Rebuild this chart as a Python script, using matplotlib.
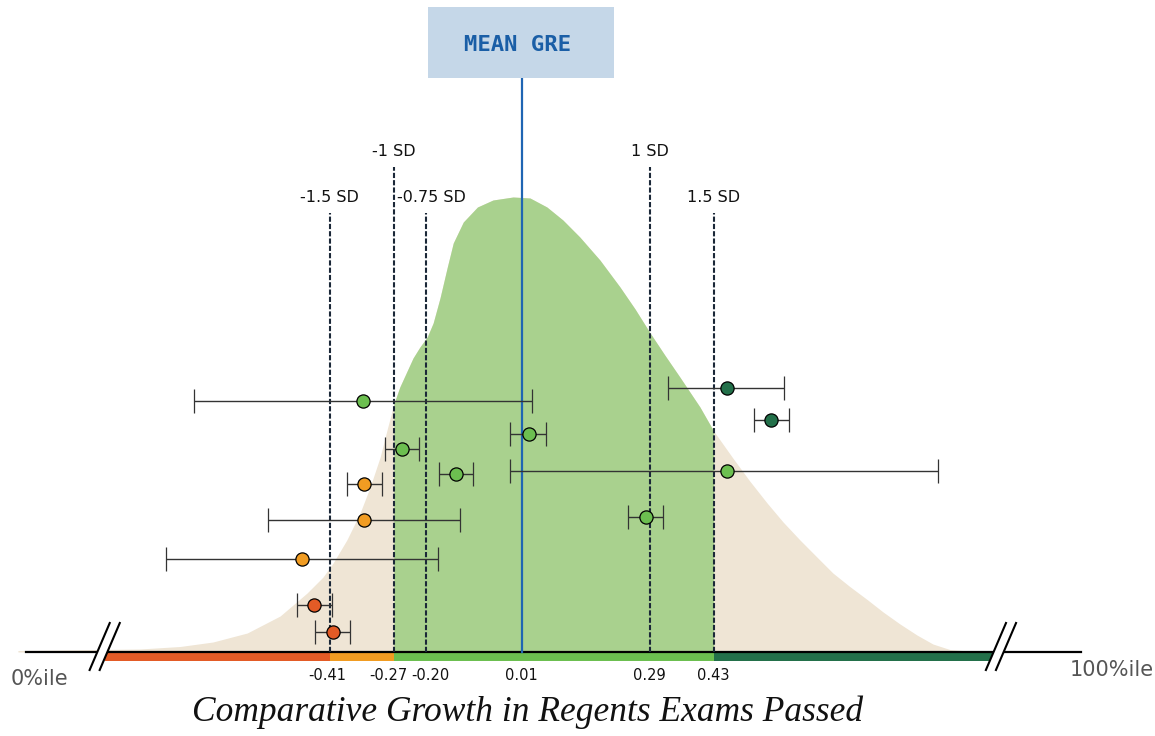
#-----------------------------------------------------------------------------------------

import numpy as np
from matplotlib import pyplot as plt
from matplotlib.patches import Rectangle, Polygon

#-----------------------------------------------------------------------------------------

# density curve (GRE units, arbitrary height)
curve_x = [-1.093, -1.001, -0.913, -0.826, -0.738, -0.666, -0.591, -0.519, -0.460, -0.425,
           -0.403, -0.373, -0.344, -0.322, -0.300, -0.285, -0.27, -0.257, -0.241, -0.228,
           -0.213, -0.197, -0.184, -0.169, -0.153, -0.140, -0.118, -0.087, -0.053, -0.009,
           0.028, 0.065, 0.100, 0.137, 0.181, 0.225, 0.258, 0.291, 0.323, 0.356,
           0.400, 0.43, 0.472, 0.509, 0.547, 0.582, 0.619, 0.656, 0.691, 0.728,
           0.766, 0.801, 0.838, 0.875, 0.910, 0.947, 1.002, 1.056]
curve_y = [0.015, 0.02, 0.025, 0.03, 0.055, 0.10, 0.19, 0.36, 0.59, 0.75,
           0.89, 1.12, 1.39, 1.65, 1.95, 2.22, 2.48, 2.65, 2.81, 2.94,
           3.05, 3.15, 3.29, 3.54, 3.85, 4.09, 4.30, 4.45, 4.52, 4.55,
           4.54, 4.45, 4.32, 4.15, 3.92, 3.65, 3.43, 3.19, 2.97, 2.75,
           2.45, 2.21, 1.94, 1.71, 1.49, 1.30, 1.12, 0.95, 0.79, 0.655,
           0.525, 0.40, 0.28, 0.17, 0.08, 0.025, 0.005, 0.0]

mean_gre = 0.01
sd_labels = ["-1.5 SD", "-1 SD", "-0.75 SD", "1 SD", "1.5 SD"]
sd_x      = [-0.41, -0.27, -0.20, 0.29, 0.43]
sd_top    = [4.39, 4.85, 4.39, 4.85, 4.39]

tick_vals   = [-0.41, -0.27, -0.20, 0.01, 0.29, 0.43]
tick_labels = ["-0.41", "-0.27", "-0.20", "0.01", "0.29", "0.43"]

# schools: estimate, lower, upper, row height, colour band
pt_x   = [-0.338, 0.459, 0.555, 0.026, -0.252, -0.134, -0.335, 0.459, -0.335, 0.282, -0.472, -0.445, -0.403]
pt_lo  = [-0.707, 0.330, 0.519, -0.016, -0.289, -0.171, -0.373, -0.016, -0.545, 0.243, -0.769, -0.482, -0.442]
pt_hi  = [0.032, 0.584, 0.595, 0.063, -0.215, -0.097, -0.296, 0.921, -0.125, 0.319, -0.173, -0.405, -0.366]
pt_y   = [2.51, 2.64, 2.32, 2.18, 2.03, 1.78, 1.68, 1.81, 1.32, 1.35, 0.93, 0.47, 0.20]
pt_band = ["lg", "dg", "dg", "lg", "lg", "lg", "or", "lg", "or", "lg", "or", "rd", "rd"]

band_edges  = [-0.902, -0.41, -0.27, 0.43, 1.042]
band_colors = ["#e35b26", "#f19c22", "#6cbf50", "#23704a"]
colors = {"rd": "#e35b26", "or": "#f19c22", "lg": "#6cbf50", "dg": "#23704a"}

#-----------------------------------------------------------------------------------------

fig = plt.figure(figsize=(11.55, 7.36), dpi=100)
ax = fig.add_axes([0, 0, 1, 1])
ax.set_xlim(-1.1322, 1.3962)
ax.set_ylim(-0.84, 6.52)
ax.axis('off')

cx = np.array(curve_x)
cy = np.array(curve_y)
ax.fill_between(cx, 0, cy, color='#efe5d5', lw=0, zorder=1)
inside = (cx >= sd_x[1] - 1e-9) & (cx <= sd_x[4] + 1e-9)
ax.fill_between(cx[inside], 0, cy[inside], color='#a9d18e', lw=0, zorder=2)

# baseline and colour band
ax.plot([-1.075, 1.235], [0, 0], color='black', lw=1.6, zorder=5)
for i in range(len(band_colors)):
    ax.broken_barh([(band_edges[i], band_edges[i+1] - band_edges[i])], (-0.09, 0.08),
                   facecolors=band_colors[i], zorder=4)

# axis breaks
for x0 in [-0.936, 1.026]:
    gap = Polygon([[x0, -0.18], [x0 + 0.044, 0.29], [x0 + 0.066, 0.29], [x0 + 0.022, -0.18]],
                  closed=True, facecolor='white', edgecolor='none', zorder=6)
    ax.add_patch(gap)
    ax.plot([x0, x0 + 0.044], [-0.18, 0.29], color='black', lw=1.5, zorder=7)
    ax.plot([x0 + 0.022, x0 + 0.066], [-0.18, 0.29], color='black', lw=1.5, zorder=7)

# SD lines
for lab, x, top in zip(sd_labels, sd_x, sd_top):
    ax.plot([x, x], [0, top], color='#1b2838', lw=1.5, dashes=(2.5, 1.0), zorder=8)
    dx = 0.012 if lab == "-0.75 SD" else 0.0
    ax.text(x + dx, top + 0.16, lab, ha='center', va='center', fontsize=11.5, color='#111111')

# mean line and box
ax.plot([mean_gre, mean_gre], [0, 5.74], color='#1f65b3', lw=1.6, zorder=8)
ax.add_patch(Rectangle((-0.1953, 5.74), 0.4072, 0.71, facecolor='#c5d7e8', edgecolor='none', zorder=8))
ax.text(0.0, 6.07, "MEAN GRE", ha='center', va='center', fontsize=16,
        family='DejaVu Sans Mono', fontweight='bold', color='#1a5ea6', zorder=9)

# tick labels (the two close ones nudged apart)
nudge = {"-0.41": -0.006, "-0.27": -0.012, "-0.20": 0.011}
for v, lab in zip(tick_vals, tick_labels):
    ax.text(v + nudge.get(lab, 0.0), -0.23, lab, ha='center', va='center',
            fontsize=10.5, color='#111111')

ax.text(-1.11, -0.27, "0%ile", ha='left', va='center', fontsize=15, color='#555555')
ax.text(1.393, -0.18, "100%ile", ha='right', va='center', fontsize=15, color='#555555')

# schools
for x, lo, hi, y, b in zip(pt_x, pt_lo, pt_hi, pt_y, pt_band):
    ax.errorbar([x], [y], xerr=[[x - lo], [hi - x]], fmt='o', color=colors[b],
                ecolor='#333333', elinewidth=1.0, capsize=8.6, capthick=1.0,
                markersize=9.5, markeredgecolor='black', markeredgewidth=0.9, zorder=10)

fig.text(528 / 1155, 1 - 712 / 736, "Comparative Growth in Regents Exams Passed",
         ha='center', va='center', fontsize=25.5, family='Liberation Serif', style='italic',
         color='#111111')

fig.savefig("out.png", dpi=100)
